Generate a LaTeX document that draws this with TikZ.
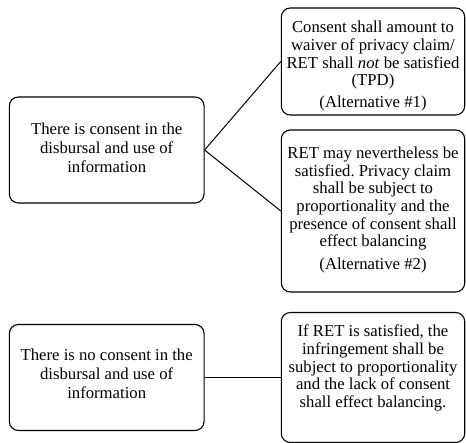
\documentclass[tikz,border=0pt]{standalone}
\usepackage{fontspec}
\setmainfont{Liberation Serif}
\frenchspacing
\begin{document}
\begin{tikzpicture}[x=1pt,y=-1pt,
  box/.style={draw, rounded corners=9pt, line width=1.1pt, inner sep=0pt},
  rtxt/.style={align=center, inner sep=0pt, font=\fontsize{16.7}{17.7}\selectfont},
  ltxt/.style={align=center, inner sep=0pt, font=\fontsize{16.7}{19}\selectfont},
  conn/.style={line width=1pt}]
\useasboundingbox (0,0) rectangle (466,443);
% boxes
\node[box, minimum width=194.7pt, minimum height=106pt] (a) at (106.7,150) {};
\node[box, minimum width=183.4pt, minimum height=107pt] (b1) at (373,61.5) {};
\node[box, minimum width=183.4pt, minimum height=162pt] (b2) at (373,211) {};
\node[box, minimum width=194.7pt, minimum height=106pt] (c) at (106.7,377.5) {};
\node[box, minimum width=183.4pt, minimum height=130pt] (d) at (373,377.5) {};
% texts
\node[ltxt] (ta) at (106.7,148) {There is consent in the\\ disbursal and use of\\ information};
\node[rtxt] (tb1) at (373,66) {Consent shall amount to\\ waiver of privacy claim/\\ RET shall \textit{not} be satisfied\\ (TPD)\\[3.5pt] (Alternative \#1)};
\node[rtxt] (tb2) at (373,210) {RET may nevertheless be\\ satisfied. Privacy claim\\ shall be subject to\\ proportionality and the\\ presence of consent shall\\ effect balancing\\[5pt] (Alternative \#2)};
\node[ltxt] (tc) at (106.7,374) {There is no consent in the\\ disbursal and use of\\ information};
\node[rtxt] (td) at (373,368) {If RET is satisfied, the\\ infringement shall be\\ subject to proportionality\\ and the lack of consent\\ shall effect balancing.};
% connectors
\draw[conn] (a.east) -- (b1.west);
\draw[conn] (a.east) -- (b2.west);
\draw[conn] (c.east) -- (d.west);
\end{tikzpicture}
\end{document}
